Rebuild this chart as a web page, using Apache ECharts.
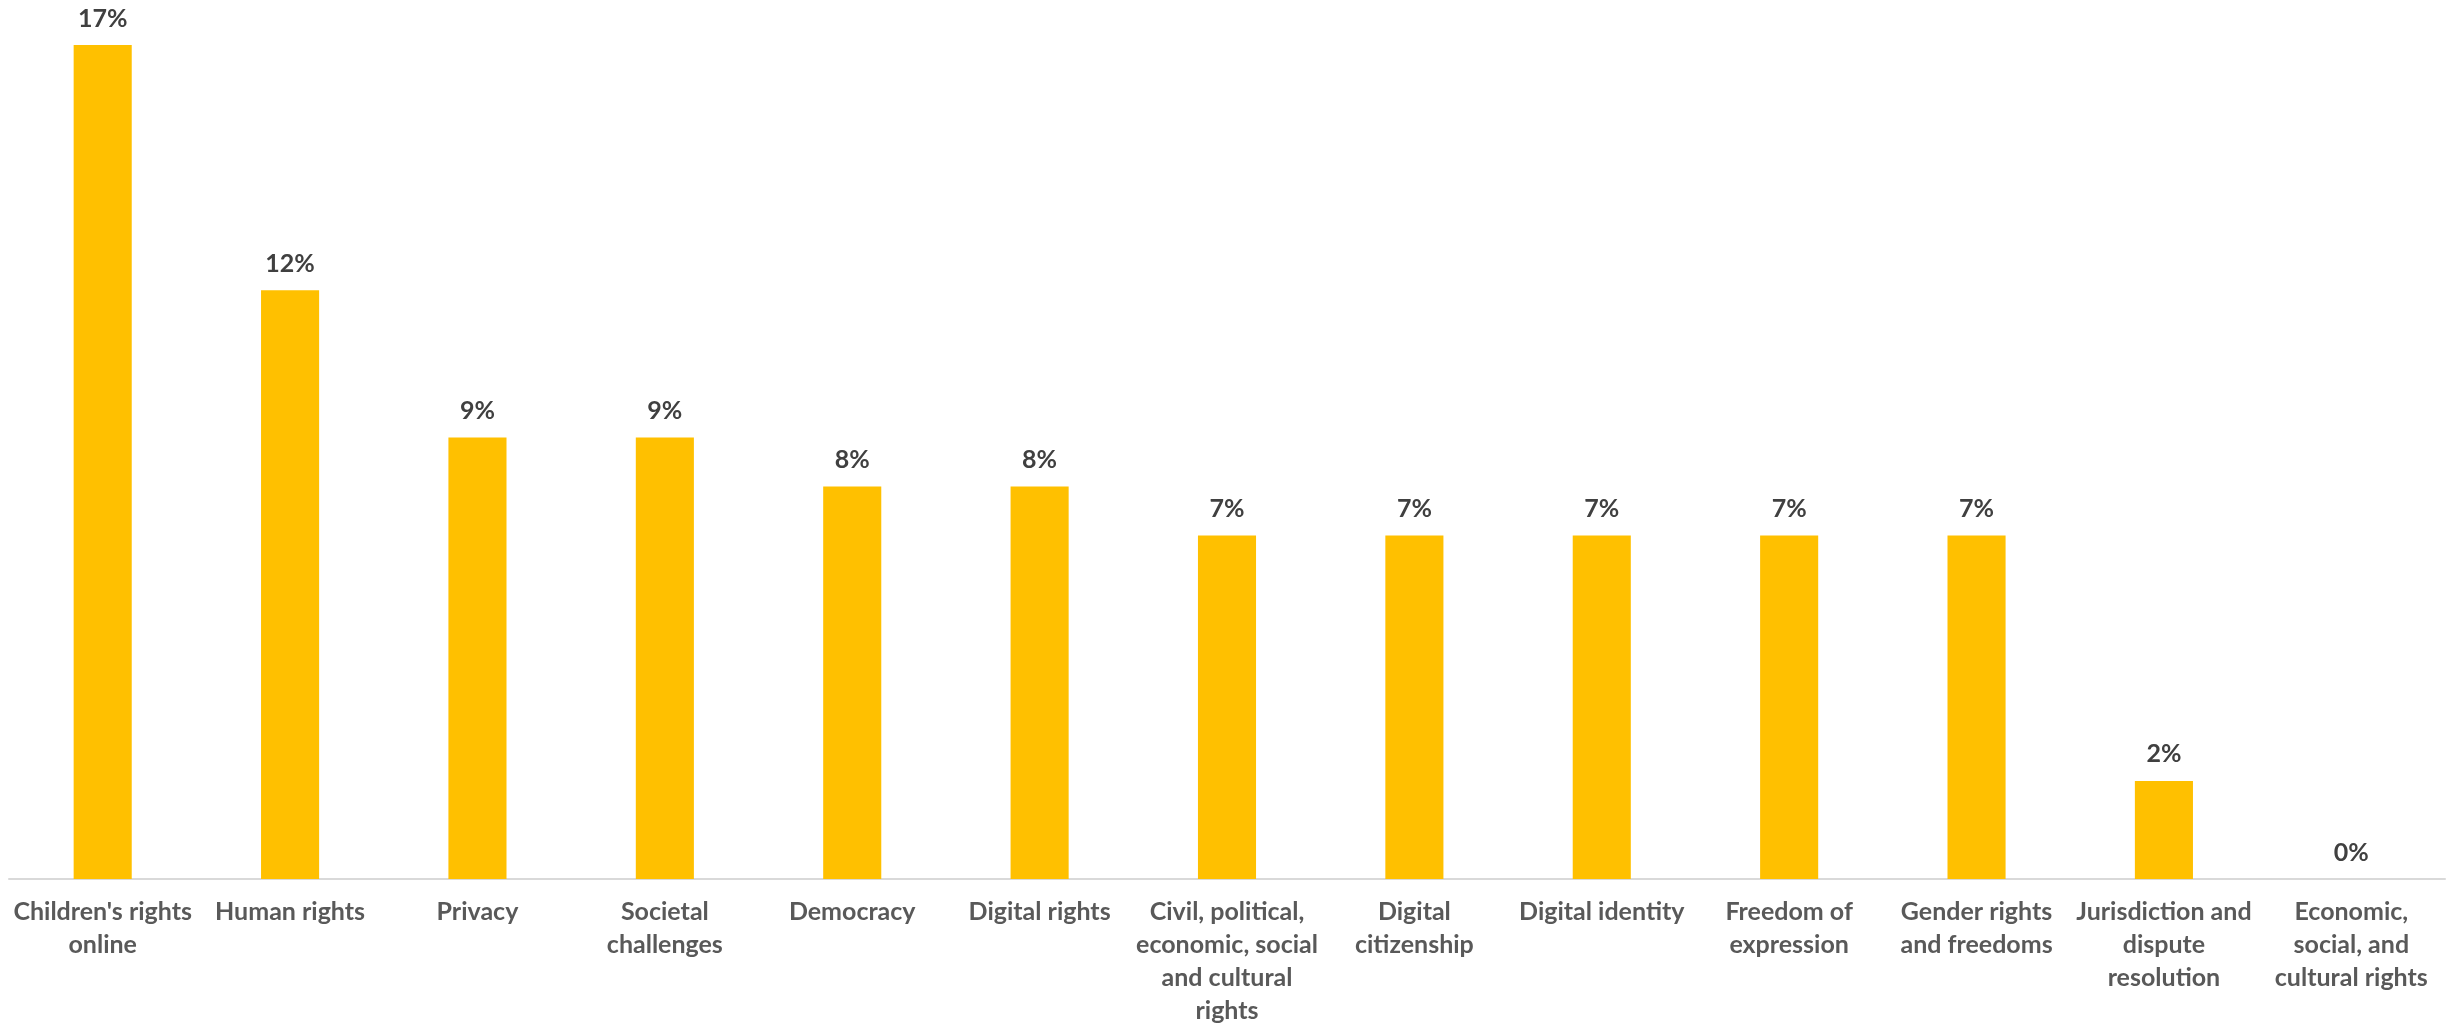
<!DOCTYPE html>
<html>
<head>
<meta charset="utf-8">
<script src="https://cdn.jsdelivr.net/npm/echarts@6/dist/echarts.min.js"></script>
<style>html,body{margin:0;padding:0;background:#fff}#c{width:2453px;height:1028px}</style>
</head>
<body>
<div id="c"></div>
<script>
const categories = [
  "Children's rights\nonline",
  "Human rights",
  "Privacy",
  "Societal\nchallenges",
  "Democracy",
  "Digital rights",
  "Civil, political,\neconomic, social\nand cultural\nrights",
  "Digital\ncitizenship",
  "Digital identity",
  "Freedom of\nexpression",
  "Gender rights\nand freedoms",
  "Jurisdiction and\ndispute\nresolution",
  "Economic,\nsocial, and\ncultural rights"
];
const values = [17, 12, 9, 9, 8, 8, 7, 7, 7, 7, 7, 2, 0];

const chart = echarts.init(document.getElementById('c'));
chart.setOption({
  animation: false,
  grid: { left: 9, right: 8, top: 45, bottom: 149, containLabel: false },
  xAxis: {
    type: 'category',
    data: categories,
    axisLine: { show: true, lineStyle: { color: '#D9D9D9', width: 2 } },
    axisTick: { show: false },
    axisLabel: {
      interval: 0,
      color: '#595959',
      fontFamily: 'Lato',
      fontWeight: 'bold',
      fontSize: 25,
      lineHeight: 33,
      margin: 16
    }
  },
  yAxis: {
    type: 'value',
    min: 0,
    max: 17,
    show: false,
    splitLine: { show: false }
  },
  series: [{
    type: 'bar',
    data: values,
    barWidth: '31%',
    itemStyle: { color: '#FFC000' },
    label: {
      show: true,
      position: 'top',
      distance: 14,
      color: '#404040',
      fontFamily: 'Lato',
      fontWeight: 'bold',
      fontSize: 25,
      formatter: p => p.value + '%'
    }
  }]
});
</script>
</body>
</html>
